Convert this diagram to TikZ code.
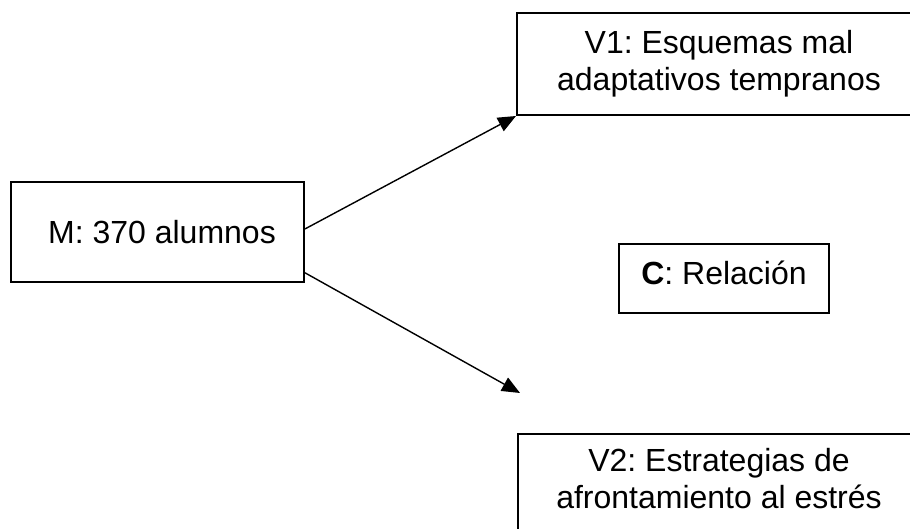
\documentclass[tikz,border=0pt]{standalone}
\usepackage{fontspec}
\setmainfont{Liberation Sans}
\usetikzlibrary{arrows.meta,calc}
\frenchspacing
\begin{document}
\begin{tikzpicture}[x=1pt,y=-1pt,
  txt/.style={font=\fontsize{32}{37}\selectfont, align=center},
  box/.style={draw, line width=2pt, inner sep=0pt, txt},
  conn/.style={line width=1.4pt, -{Triangle[length=18pt,width=15pt]}}]
\useasboundingbox (0,0) rectangle (910,529);
\node[box, minimum width=404, minimum height=102] (v1) at (719,64) {V1: Esquemas mal\\adaptativos tempranos};
\node[box, minimum width=293, minimum height=100] (m) at (157.5,232) {\hspace*{9pt}M: 370 alumnos};
\node[box, minimum width=210, minimum height=69, text height=23, text depth=10] (c) at (724,278.5) {\textbf{C}: Relación};
\node[box, anchor=north west, minimum width=404, minimum height=150] (v2) at (517,433) {};
\node[txt, inner sep=0pt, anchor=north] (v2t) at (719,448) {V2: Estrategias de\\afrontamiento al estrés};
\coordinate (a2end) at (520,393);
\draw[conn] ($(m.south east)!0.53!(m.north east)$) -- (v1.south west);
\draw[conn] ($(m.south east)!0.10!(m.north east)$) -- (a2end);
\end{tikzpicture}
\end{document}
